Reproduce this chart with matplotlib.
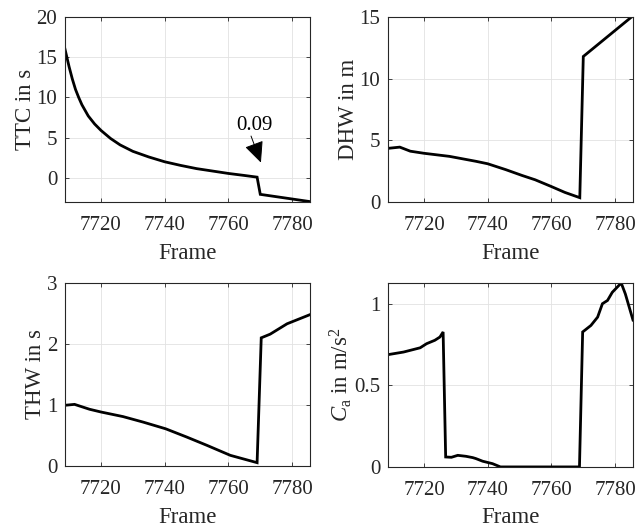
import matplotlib
matplotlib.use("Agg")
import matplotlib.pyplot as plt

plt.rcParams['font.family'] = ['Liberation Serif', 'DejaVu Serif']
plt.rcParams['mathtext.fontset'] = 'custom'
plt.rcParams['mathtext.rm'] = 'Liberation Serif'
plt.rcParams['mathtext.it'] = 'Liberation Serif:italic'

# ---- data ----
ttc_frame = [7708.7, 7710, 7711, 7712, 7713, 7714, 7716, 7718, 7720, 7723, 7726, 7730,
             7735, 7740, 7745, 7750, 7755, 7760, 7765, 7769, 7770, 7785.6]
ttc_val = [16.0, 13.8, 12.3, 11.0, 10.0, 9.1, 7.7, 6.7, 5.9, 4.9, 4.1, 3.3,
           2.6, 2.0, 1.55, 1.15, 0.85, 0.55, 0.3, 0.09, -2.05, -2.95]

dhw_frame = [7708.7, 7712.4, 7715.7, 7720, 7728, 7736.3, 7740, 7745.7, 7750.8, 7754.9,
             7760, 7764.2, 7768.9, 7770, 7785.6]
dhw_val = [4.35, 4.45, 4.12, 3.95, 3.7, 3.3, 3.1, 2.62, 2.15, 1.8,
           1.25, 0.78, 0.35, 11.8, 15.1]

thw_frame = [7708.7, 7711.7, 7716.4, 7720, 7726.9, 7733.2, 7740.3, 7746.9, 7753.2, 7760.6,
             7769, 7770.3, 7773.1, 7778.4, 7785.6]
thw_val = [0.995, 1.01, 0.93, 0.885, 0.81, 0.72, 0.61, 0.475, 0.34, 0.175,
           0.055, 2.1, 2.16, 2.33, 2.48]

ca_frame = [7708.7, 7713.6, 7718.8, 7720.8, 7723.4, 7725, 7726, 7726.8, 7728.6, 7730.6,
            7733.2, 7735.3, 7736.3, 7738.4, 7741.5, 7744, 7768.8, 7769.8, 7772.4, 7774.5,
            7776, 7777.6, 7779.1, 7781.9, 7783.2, 7785.6]
ca_val = [0.688, 0.704, 0.73, 0.755, 0.776, 0.796, 0.827, 0.061, 0.059, 0.071,
          0.065, 0.057, 0.051, 0.035, 0.02, 0.0, 0.0, 0.827, 0.867, 0.918,
          1.0, 1.02, 1.07, 1.127, 1.06, 0.9]

x_ticks = [7720, 7740, 7760, 7780]
x_lim = (7708.7, 7785.6)

fig = plt.figure(figsize=(6.39, 5.27), dpi=100)

positions = [
    [0.1017, 0.6167, 0.3834, 0.351],
    [0.6072, 0.6167, 0.3834, 0.351],
    [0.1017, 0.1157, 0.3834, 0.3475],
    [0.6072, 0.1140, 0.3834, 0.3490],
]
panels = [
    (ttc_frame, ttc_val, 'TTC in s', (-3, 20), [0, 5, 10, 15, 20], ['0', '5', '10', '15', '20']),
    (dhw_frame, dhw_val, 'DHW in m', (0, 15), [0, 5, 10, 15], ['0', '5', '10', '15']),
    (thw_frame, thw_val, 'THW in s', (0, 3), [0, 1, 2, 3], ['0', '1', '2', '3']),
    (ca_frame, ca_val, r'$C_\mathrm{a}$ in m/s$^2$', (0, max(ca_val)), [0, 0.5, 1], ['0', '0.5', '1']),
]

axes = []
for pos, (fx, fy, lab, ylim, yt, ytl) in zip(positions, panels):
    ax = fig.add_axes(pos)
    ax.plot(fx, fy, color='black', lw=2.0, solid_joinstyle='miter')
    ax.set_xlim(*x_lim)
    ax.set_ylim(*ylim)
    ax.set_xticks(x_ticks)
    ax.set_yticks(yt)
    ax.set_yticklabels(ytl)
    ax.grid(True, color='#e2e2e2', lw=0.6)
    ax.set_axisbelow(True)
    ax.tick_params(direction='in', length=3, width=0.6, top=True, right=True,
                   labelsize=15, colors='#262626')
    ax.tick_params(axis='x', pad=10)
    ax.tick_params(axis='y', pad=5.5)
    for s in ax.spines.values():
        s.set_color('#262626')
        s.set_linewidth(0.8)
    ax.set_xlabel('Frame', fontsize=16.5, color='#262626', labelpad=5.5)
    ax.set_ylabel(lab, fontsize=16.5, color='#262626', labelpad=0.5)
    axes.append(ax)

# annotation of the TTC value just before the jump
axes[0].text(7768.2, 6.5, '0.09', ha='center', va='center', fontsize=15)
axes[0].annotate('', xy=(7770.2, 1.9), xytext=(7767.1, 5.2),
                 arrowprops=dict(arrowstyle='-|>,head_length=0.65,head_width=0.3',
                                 mutation_scale=20, color='black', lw=0.7,
                                 shrinkA=0, shrinkB=0))

fig.savefig('out.png', dpi=100)
